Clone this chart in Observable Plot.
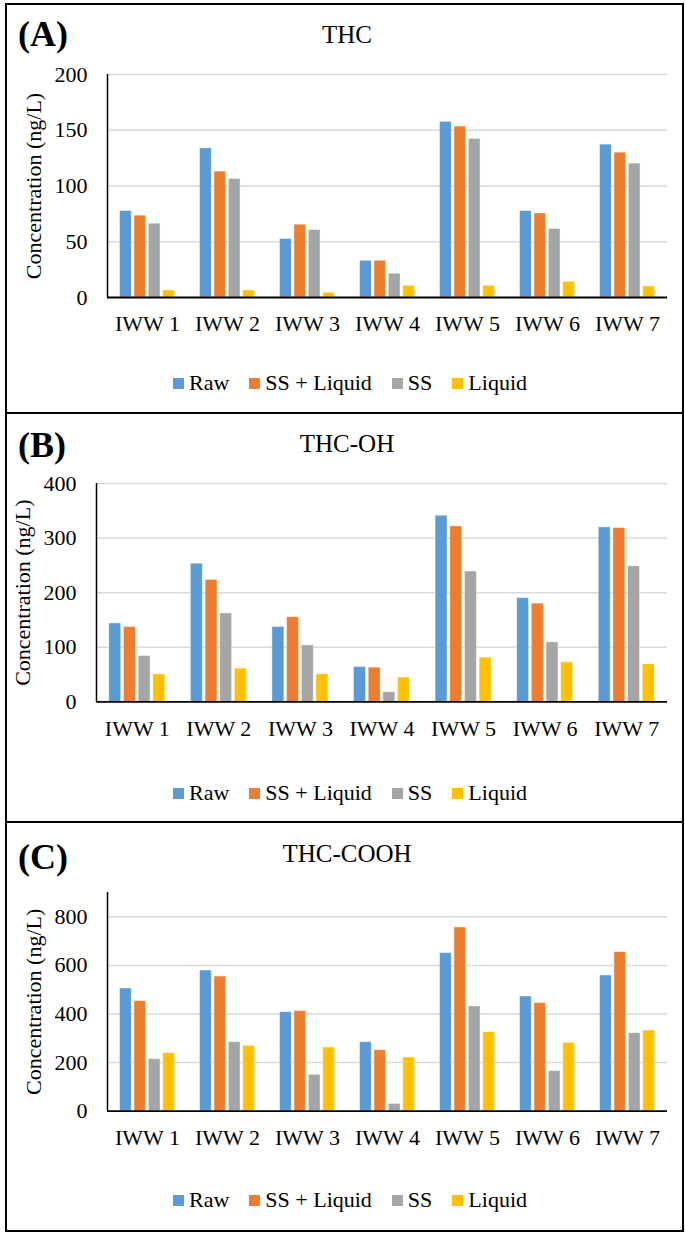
<!DOCTYPE html>
<html>
<head>
<meta charset="utf-8">
<script src="https://cdn.jsdelivr.net/npm/d3@7"></script>
<script src="https://cdn.jsdelivr.net/npm/@observablehq/plot@0.6"></script>
<style>
  html, body { margin: 0; padding: 0; background: #fff; overflow: hidden; }
  body { font-family: "Liberation Serif", "Times New Roman", serif; color: #000; }
  #page { position: relative; width: 685px; height: 1233px; }
  .frame { position: absolute; box-sizing: border-box; border: 2px solid #000; }
  .divider { position: absolute; height: 2px; background: #000; }
  .tag { position: absolute; font-weight: bold; font-size: 36px; line-height: 36px; white-space: nowrap; }
  .title { position: absolute; font-size: 25px; line-height: 25px; white-space: nowrap; transform: translateX(-50%); }
  .chart { position: absolute; left: 0; }
  .legend { position: absolute; display: flex; align-items: center; font-family: "Liberation Serif", serif; font-size: 22px; line-height: 22px; white-space: nowrap; transform: translateX(-50%); }
  .legend .item { display: flex; align-items: center; margin-right: 20px; }
  .legend .item:last-child { margin-right: 0; }
  .legend .sw { width: 11px; height: 11px; margin-right: 5px; }
</style>
</head>
<body>
<div id="page"></div>
<script>
// ---------------- data ----------------
const categories = ["IWW 1", "IWW 2", "IWW 3", "IWW 4", "IWW 5", "IWW 6", "IWW 7"];
const seriesNames = ["Raw", "SS + Liquid", "SS", "Liquid"];
const seriesColors = ["#5B9BD5", "#ED7D31", "#A5A5A5", "#FFC000"];

// (A) THC, ng/L
const thcRaw      = [77.5, 133.8, 52.4, 32.9, 157.5, 77.5, 137.1];
const thcSSLiquid = [73.4, 112.9, 65.3, 32.9, 153.3, 75.4, 129.9];
const thcSS       = [66.2, 106.3, 60.5, 21.3, 142.2, 61.4, 120.1];
const thcLiquid   = [6.3, 6.3, 4.2, 10.5, 10.5, 14.1, 9.9];
const thcTicks    = [0, 50, 100, 150, 200];

// (B) THC-OH, ng/L
const ohRaw      = [143.7, 253, 137, 64, 341, 190, 319.6];
const ohSSLiquid = [137, 223.4, 155, 62.7, 321.5, 180, 318.4];
const ohSS       = [84, 162, 103.5, 17.7, 238.7, 109, 248.4];
const ohLiquid   = [50.5, 61, 50.5, 44.4, 81, 72.5, 68.8];
const ohTicks    = [0, 100, 200, 300, 400];

// (C) THC-COOH, ng/L
const coohRaw      = [505, 579, 407.5, 284, 650.4, 472, 558.5];
const coohSSLiquid = [452.8, 554, 411.7, 251, 756, 444.6, 654.5];
const coohSS       = [214, 284, 149.6, 30, 431, 164.7, 321];
const coohLiquid   = [238.8, 269, 262, 221, 325, 281, 332];
const coohTicks    = [0, 200, 400, 600, 800];

const panelTags   = ["(A)", "(B)", "(C)"];
const panelTitles = ["THC", "THC-OH", "THC-COOH"];
const yLabel = "Concentration (ng/L)";

// ---------------- layout ----------------
const page = document.getElementById("page");
const W = 685;

const panels = [
  { tag: panelTags[0], title: panelTitles[0], values: [thcRaw, thcSSLiquid, thcSS, thcLiquid], ticks: thcTicks, yMax: 200,
    tagTop: 16, titleTop: 22, svgTop: 50, mTop: 24, mBottom: 53, mLeft: 107, legendMid: 383.3 },
  { tag: panelTags[1], title: panelTitles[1], values: [ohRaw, ohSSLiquid, ohSS, ohLiquid], ticks: ohTicks, yMax: 400,
    tagTop: 427, titleTop: 431, svgTop: 459.3, mTop: 24, mBottom: 57.6, mLeft: 96, legendMid: 793.3 },
  { tag: panelTags[2], title: panelTitles[2], values: [coohRaw, coohSSLiquid, coohSS, coohLiquid], ticks: coohTicks, yMax: 900,
    tagTop: 839, titleTop: 841, svgTop: 868.3, mTop: 24, mBottom: 57.3, mLeft: 107, legendMid: 1200 }
];

// outer frame and dividers
const frame = document.createElement("div");
frame.className = "frame";
Object.assign(frame.style, { left: "5px", top: "3px", width: "679px", height: "1229px" });
page.appendChild(frame);
for (const y of [411.5, 821]) {
  const d = document.createElement("div");
  d.className = "divider";
  Object.assign(d.style, { left: "5px", top: y + "px", width: "679px" });
  page.appendChild(d);
}

for (const p of panels) {
  const tag = document.createElement("div");
  tag.className = "tag";
  tag.textContent = p.tag;
  Object.assign(tag.style, { left: "18px", top: p.tagTop + "px" });
  page.appendChild(tag);

  const title = document.createElement("div");
  title.className = "title";
  title.textContent = p.title;
  Object.assign(title.style, { left: "347px", top: p.titleTop + "px" });
  page.appendChild(title);

  const data = seriesNames.flatMap((s, k) => categories.map((c, j) => ({ cat: c, series: s, value: p.values[k][j] })));
  const height = 300;
  const mRight = 18;
  const bw = (W - p.mLeft - mRight) / categories.length;
  const step = bw * 0.18, barW = bw * 0.146;
  const groupStart = bw / 2 - (3 * step + barW) / 2;

  const chart = Plot.plot({
    width: W,
    height,
    marginLeft: p.mLeft,
    marginRight: mRight,
    marginTop: p.mTop,
    marginBottom: p.mBottom,
    style: { fontFamily: "'Liberation Serif', 'Times New Roman', serif", fontSize: "22px", color: "#000", background: "transparent", overflow: "visible" },
    x: { domain: categories, padding: 0, round: false, tickSize: 0, tickPadding: 18, label: null },
    y: { domain: [0, p.yMax], ticks: p.ticks, tickSize: 0, tickPadding: 20, label: yLabel, labelArrow: "none", labelAnchor: "center", labelOffset: 82 },
    marks: [
      Plot.ruleY(p.ticks.filter(t => t > 0), { stroke: "#d9d9d9", strokeWidth: 1.5 }),
      ...seriesNames.map((s, k) => Plot.barY(data.filter(d => d.series === s), {
        x: "cat", y: "value", fill: seriesColors[k],
        stroke: "#fff", strokeOpacity: 0.5, strokeWidth: 0.8,
        insetLeft: groupStart + k * step,
        insetRight: bw - (groupStart + k * step + barW)
      })),
      Plot.ruleY([0], { stroke: "#000", strokeWidth: 1.8 }),
      Plot.ruleX([categories[0]], { y1: 0, y2: p.yMax, dx: -bw / 2, stroke: "#000", strokeWidth: 1.5 })
    ]
  });
  const wrap = document.createElement("div");
  wrap.className = "chart";
  wrap.style.top = p.svgTop + "px";
  wrap.appendChild(chart);
  page.appendChild(wrap);

  const legend = document.createElement("div");
  legend.className = "legend";
  Object.assign(legend.style, { left: "350px", top: (p.legendMid - 11) + "px" });
  seriesNames.forEach((s, k) => {
    const item = document.createElement("div");
    item.className = "item";
    const sw = document.createElement("span");
    sw.className = "sw";
    sw.style.background = seriesColors[k];
    const tx = document.createElement("span");
    tx.textContent = s;
    item.appendChild(sw);
    item.appendChild(tx);
    legend.appendChild(item);
  });
  page.appendChild(legend);
}
</script>
</body>
</html>
